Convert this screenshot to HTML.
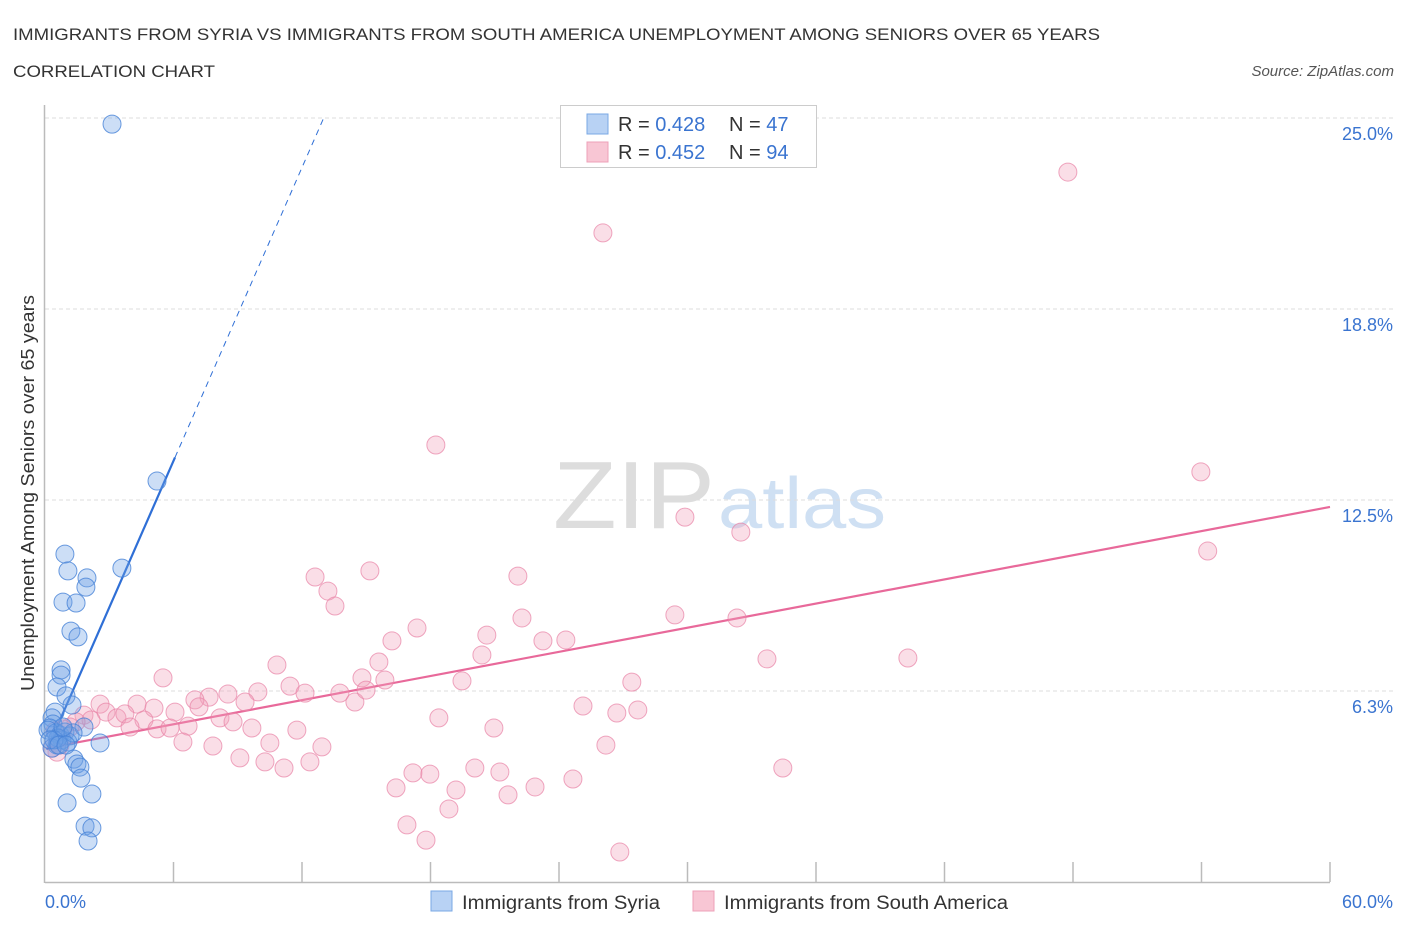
<!DOCTYPE html>
<html><head><meta charset="utf-8"><style>
body{margin:0;background:#fff;}
svg text{font-family:"Liberation Sans",sans-serif;}
</style></head><body>
<svg id="c" width="1406" height="930" xmlns="http://www.w3.org/2000/svg">
<text x="13" y="40" font-size="17" fill="#333" textLength="1087" lengthAdjust="spacingAndGlyphs">IMMIGRANTS FROM SYRIA VS IMMIGRANTS FROM SOUTH AMERICA UNEMPLOYMENT AMONG SENIORS OVER 65 YEARS</text>
<text x="13" y="77" font-size="17" fill="#333" textLength="202" lengthAdjust="spacingAndGlyphs">CORRELATION CHART</text>
<text x="1394" y="76" font-size="15" fill="#555" font-style="italic" text-anchor="end">Source: ZipAtlas.com</text>
<g>
<text x="553" y="528" font-size="96" fill="#ddd" font-family="Liberation Serif" textLength="162" lengthAdjust="spacingAndGlyphs">ZIP</text>
<text x="718" y="528" font-size="72" fill="#cfe0f3" textLength="168" lengthAdjust="spacingAndGlyphs">atlas</text>
</g>
<g id="grid"></g><g id="axes"></g><g id="lines"></g><g id="pts"></g>
<text transform="translate(34,493) rotate(-90)" font-size="18" fill="#333" text-anchor="middle" textLength="396" lengthAdjust="spacingAndGlyphs">Unemployment Among Seniors over 65 years</text>
<text x="45" y="908" font-size="18" fill="#3a74d0">0.0%</text>
<text x="1393" y="908" font-size="18" fill="#3a74d0" text-anchor="end">60.0%</text>
<g>
<rect x="560.5" y="105.5" width="256" height="62" fill="#fff" stroke="#ccc"/>
<rect x="587" y="114" width="21" height="20" fill="#b8d2f4" stroke="#7aa8e4"/>
<rect x="587" y="142" width="21" height="20" fill="#f8c6d4" stroke="#eea0b8"/>
<text x="618" y="131" font-size="20" fill="#333">R = <tspan fill="#3a74d0">0.428</tspan></text>
<text x="729" y="131" font-size="20" fill="#333">N = <tspan fill="#3a74d0">47</tspan></text>
<text x="618" y="159" font-size="20" fill="#333">R = <tspan fill="#3a74d0">0.452</tspan></text>
<text x="729" y="159" font-size="20" fill="#333">N = <tspan fill="#3a74d0">94</tspan></text>
</g>
<g>
<rect x="431" y="891" width="21" height="20" fill="#b8d2f4" stroke="#7aa8e4"/>
<text x="462" y="909" font-size="19" fill="#333" textLength="198" lengthAdjust="spacingAndGlyphs">Immigrants from Syria</text>
<rect x="693" y="891" width="21" height="20" fill="#f8c6d4" stroke="#eea0b8"/>
<text x="724" y="909" font-size="19" fill="#333" textLength="284" lengthAdjust="spacingAndGlyphs">Immigrants from South America</text>
</g>
</svg>
<script>
const yTicks=[6.25,12.5,18.75,25];
const yTickLabels=["6.3%","12.5%","18.8%","25.0%"];
const xTicks=[6,12,18,24,30,36,42,48,54,60];
const syriaX=[3.13,5.23,3.59,0.93,1.07,1.96,1.91,0.84,1.45,1.21,1.54,0.75,0.75,0.56,0.98,1.26,0.47,0.33,0.37,0.23,0.51,0.70,0.93,1.17,0.79,0.56,1.07,1.82,2.57,1.35,1.49,1.63,1.68,2.19,1.03,1.87,2.19,2.01,0.33,0.61,0.14,0.42,1.31,0.84,0.23,0.65,0.98];
const syriaY=[24.8,13.12,10.27,10.73,10.18,9.95,9.65,9.16,9.13,8.21,8.02,6.94,6.77,6.38,6.09,5.79,5.56,5.37,5.17,5.04,4.88,4.81,4.91,4.78,4.65,4.48,4.58,5.07,4.55,4.02,3.86,3.76,3.40,2.88,2.59,1.83,1.77,1.34,4.38,4.71,4.97,4.65,4.88,5.07,4.65,4.48,4.48];
const saX=[47.76,26.05,18.25,53.97,29.88,32.49,54.29,12.61,15.17,22.08,13.21,13.54,22.27,29.41,32.31,17.37,20.63,23.25,24.32,16.20,20.40,33.71,40.29,10.83,15.59,5.51,14.80,15.87,19.47,27.40,11.44,12.14,7.66,7.00,8.54,9.94,13.77,14.47,14.99,9.34,4.30,2.57,5.09,6.07,7.19,2.85,3.36,3.73,1.82,2.15,4.62,1.45,1.17,0.84,0.47,8.17,8.78,3.97,5.23,5.84,6.68,9.66,11.76,18.39,20.96,25.12,26.70,27.68,6.44,7.84,10.50,12.93,26.19,9.10,10.27,11.16,12.37,17.18,17.97,20.07,21.24,16.39,19.19,21.62,22.88,24.65,34.45,18.86,16.90,17.79,26.84,0.70,0.56,0.33];
const saY=[23.23,21.24,14.30,13.42,11.94,11.45,10.83,9.98,10.18,10.01,9.52,9.03,8.64,8.74,8.64,8.31,8.08,7.89,7.92,7.89,7.43,7.30,7.33,7.10,7.20,6.68,6.68,6.61,6.58,6.54,6.41,6.18,6.05,5.96,6.15,6.22,6.18,5.89,6.28,5.89,5.82,5.82,5.69,5.56,5.73,5.56,5.37,5.50,5.46,5.30,5.30,5.24,5.07,5.01,4.94,5.37,5.24,5.07,5.01,5.04,5.10,5.04,4.97,5.37,5.04,5.76,5.53,5.63,4.58,4.45,4.55,4.42,4.48,4.06,3.93,3.73,3.93,3.57,3.53,3.73,3.60,3.08,3.01,2.85,3.11,3.37,3.73,2.39,1.87,1.37,0.98,4.48,4.25,4.38];
const syriaFit=[4.18,1.60];
const saFit=[4.37,0.1317];
const NS="http://www.w3.org/2000/svg";
const X=v=>45+v*(1285/60), Y=v=>882-v*30.56;
function mk(t,p,a){const e=document.createElementNS(NS,t);for(const k in a)e.setAttribute(k,a[k]);p.appendChild(e);return e;}
const grid=document.getElementById('grid'),axes=document.getElementById('axes'),lines=document.getElementById('lines'),pts=document.getElementById('pts');
yTicks.forEach((t,i)=>{
 const l=mk('line',grid,{x1:45,x2:1395,y1:Y(t),y2:Y(t),stroke:'#ddd','stroke-dasharray':'4,3'});
 
 
 const tx=mk('text',grid,{x:1393,y:Y(t)+22,'font-size':18,fill:'#3a74d0','text-anchor':'end'});
 tx.textContent=yTickLabels[i];
 
 
});
const xa=mk('line',axes,{x1:45,x2:1330,y1:882.5,y2:882.5,stroke:'#bbb','stroke-width':1.5});


const ya=mk('line',axes,{x1:44.5,x2:44.5,y1:105,y2:883,stroke:'#bbb','stroke-width':1.5});


xTicks.forEach(t=>{const l=mk('line',axes,{x1:X(t),x2:X(t),y1:862,y2:882,stroke:'#bbb','stroke-width':1.5});
 
 });
function dots(xs,ys,fill,stroke,name){xs.forEach((x,i)=>{const c=mk('circle',pts,{cx:X(x),cy:Y(ys[i]),r:9,fill:fill,stroke:stroke,'stroke-width':1});
 
 });}
dots(saX,saY,'rgba(242,160,186,0.35)','rgba(232,130,165,0.7)','south-america-point');
dots(syriaX,syriaY,'rgba(110,160,228,0.35)','rgba(70,130,215,0.8)','syria-point');
const f=(fit,x)=>fit[0]+fit[1]*x;
const xe=(25-syriaFit[0])/syriaFit[1];
const bl=mk('line',lines,{x1:X(0.09),y1:Y(f(syriaFit,0.09)),x2:X(6.07),y2:Y(f(syriaFit,6.07)),stroke:'#2f6fd6','stroke-width':2.2});


const bd=mk('line',lines,{x1:X(6.07),y1:Y(f(syriaFit,6.07)),x2:X(xe),y2:Y(25),stroke:'#2f6fd6','stroke-width':1,'stroke-dasharray':'6,5'});


const pl=mk('line',lines,{x1:X(0.09),y1:Y(f(saFit,0.09)),x2:X(60),y2:Y(f(saFit,60)),stroke:'#e8699a','stroke-width':2.2});


</script>
</body></html>
